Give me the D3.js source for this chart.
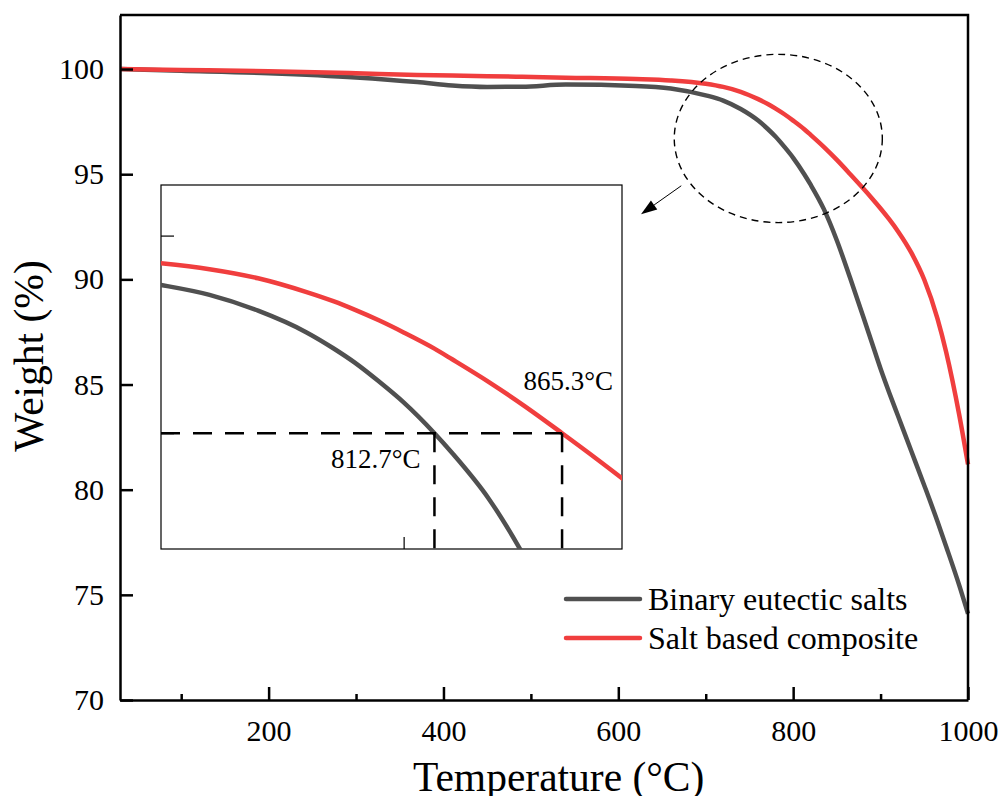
<!DOCTYPE html>
<html>
<head>
<meta charset="utf-8">
<script src="https://cdn.jsdelivr.net/npm/d3@7"></script>
<style>
body { margin:0; background:#fff; }
text { font-family: "Liberation Serif", "Times New Roman", serif; fill:#000; }
</style>
</head>
<body>
<div id="chart-area"></div>
<script>
//Data
var temps = [30, 100, 200, 300, 370, 410, 450, 490, 540, 620, 660, 700, 720, 740, 760, 771, 780, 790, 800,
             812.7, 820, 835, 850, 865.3, 880, 890, 900, 910, 920, 935, 950, 965, 975, 990, 1000];
var binaryWeights = [100.0, 99.92, 99.8, 99.6, 99.38, 99.22, 99.15, 99.16, 99.26, 99.2, 99.08, 98.75, 98.5, 98.1, 97.55, 97.15, 96.78, 96.3, 95.78,
             95.0, 94.5, 93.35, 91.85, 90.05, 88.25, 87.0, 85.75, 84.6, 83.5, 81.85, 80.2, 78.5, 77.3, 75.45, 74.1];
var compositeWeights = [100.0, 99.96, 99.9, 99.8, 99.72, 99.69, 99.66, 99.63, 99.59, 99.53, 99.46, 99.3, 99.15, 98.92, 98.57, 98.34, 98.12, 97.85, 97.55,
             97.14, 96.87, 96.3, 95.68, 95.0, 94.33, 93.86, 93.37, 92.85, 92.28, 91.28, 89.98, 88.15, 86.55, 83.55, 81.2];
var seriesNames = ["Binary eutectic salts", "Salt based composite"];
var seriesColors = ["#505050", "#f03e3e"];

//Ticks
var xMajorTicks = [200, 400, 600, 800, 1000];
var xMinorTicks = [100, 300, 500, 700, 900];
var yTicks = [70, 75, 80, 85, 90, 95, 100];
var insetXTicks = [800];
var insetYTicks = [95, 100];

//Annotation (5 % weight loss)
var onsetTemps = [812.7, 865.3];
var onsetWeight = 95;
var onsetLabels = ["812.7\u00B0C", "865.3\u00B0C"];

var serif = "'Liberation Serif', 'Times New Roman', serif";

//Margin
var margin = { left:120, right:35, top:15, bottom:96 },
    width = 1003 - margin.left - margin.right,
    height = 796 - margin.top - margin.bottom;

var svg = d3.select("#chart-area").append("svg")
    .attr("width", 1003)
    .attr("height", 796);
var g = svg.append("g")
    .attr("transform", "translate(" + margin.left + "," + margin.top + ")");

//Scales
var x = d3.scaleLinear().domain([30, 1000]).range([0, width]);
var y = d3.scaleLinear().domain([70, 102.57]).range([height, 0]);

var series = [binaryWeights, compositeWeights].map(function(w, i) {
    return { name: seriesNames[i], color: seriesColors[i],
             values: temps.map(function(t, j) { return { t: t, w: w[j] }; }) };
});

//Lines
var line = d3.line()
    .x(function(d) { return x(d.t); })
    .y(function(d) { return y(d.w); })
    .curve(d3.curveMonotoneX);

g.selectAll(".main-line").data(series).enter().append("path")
    .attr("class", "main-line")
    .attr("fill", "none")
    .attr("stroke", function(d) { return d.color; })
    .attr("stroke-width", 4.5)
    .attr("d", function(d) { return line(d.values); });

//Axes
var xAxis = g.append("g")
    .attr("transform", "translate(0," + height + ")")
    .call(d3.axisBottom(x).tickValues(xMajorTicks).tickFormat(d3.format("d"))
        .tickSizeInner(-13).tickSizeOuter(0).tickPadding(20));
var xMinor = g.append("g")
    .attr("transform", "translate(0," + height + ")")
    .call(d3.axisBottom(x).tickValues(xMinorTicks).tickSizeInner(-6).tickSizeOuter(0).tickFormat(""));
xMinor.select(".domain").remove();
var yAxis = g.append("g")
    .call(d3.axisLeft(y).tickValues(yTicks).tickSizeInner(-13).tickSizeOuter(0).tickPadding(16));

[xAxis, xMinor, yAxis].forEach(function(a) {
    a.attr("font-family", serif).attr("font-size", 30);
    a.selectAll("path, line").attr("stroke", "#000").attr("stroke-width", 2.5);
    a.selectAll("text").attr("fill", "#000")
        .style("font-family", serif).style("font-size", "30px");
});

//frame top + right
g.append("path")
    .attr("d", "M0,0H" + width + "V" + height)
    .attr("fill", "none").attr("stroke", "#000").attr("stroke-width", 2.5);

//Axis titles
svg.append("text")
    .attr("x", margin.left + (x(1000) + x(30)) / 2 - 131)
    .attr("y", 791)
    .style("font-size", "41.5px")
    .text("Temperature (\u00B0C)");
svg.append("text")
    .attr("transform", "translate(43," + 356 + ") rotate(-90)")
    .attr("text-anchor", "middle")
    .style("font-size", "41.5px")
    .text("Weight (%)");

//Ellipse and arrow pointing at inset
g.append("ellipse")
    .attr("cx", x(783)).attr("cy", y(96.7))
    .attr("rx", x(783 + 119) - x(783)).attr("ry", y(96.7 - 4) - y(96.7))
    .attr("fill", "none").attr("stroke", "#000")
    .attr("stroke-width", 1.4).attr("stroke-dasharray", "7,5");

var a0 = [x(672), y(94.45)], a1 = [x(626), y(93.1)];
var ang = Math.atan2(a1[1] - a0[1], a1[0] - a0[0]);
var headLen = 16, headW = 5.5;
var base = [a1[0] - headLen * Math.cos(ang), a1[1] - headLen * Math.sin(ang)];
g.append("line")
    .attr("x1", a0[0]).attr("y1", a0[1]).attr("x2", base[0]).attr("y2", base[1])
    .attr("stroke", "#000").attr("stroke-width", 1);
g.append("path")
    .attr("d", "M" + a1 + "L" + [base[0] + headW * Math.sin(ang), base[1] - headW * Math.cos(ang)] +
               "L" + [base[0] - headW * Math.sin(ang), base[1] + headW * Math.cos(ang)] + "Z")
    .attr("fill", "#000");

//Inset
var ix = d3.scaleLinear().domain([700, 890]).range([161, 622]);
var iy = d3.scaleLinear().domain([92.07, 101.28]).range([549, 185]);
var inset = svg.append("g");

inset.append("rect")
    .attr("x", 161).attr("y", 185).attr("width", 461).attr("height", 364)
    .attr("fill", "#fff").attr("stroke", "#000").attr("stroke-width", 1.2);

inset.append("clipPath").attr("id", "inset-clip")
    .append("rect").attr("x", 161).attr("y", 185).attr("width", 461).attr("height", 364);

var iline = d3.line()
    .x(function(d) { return ix(d.t); })
    .y(function(d) { return iy(d.w); })
    .curve(d3.curveMonotoneX);

inset.append("g").attr("clip-path", "url(#inset-clip)")
    .selectAll("path").data(series).enter().append("path")
    .attr("fill", "none")
    .attr("stroke", function(d) { return d.color; })
    .attr("stroke-width", 4.5)
    .attr("d", function(d) { return iline(d.values); });

var ixAxis = inset.append("g")
    .attr("transform", "translate(0,549)")
    .call(d3.axisBottom(ix).tickValues(insetXTicks).tickSizeInner(-12).tickSizeOuter(0).tickFormat(""));
var iyAxis = inset.append("g")
    .attr("transform", "translate(161,0)")
    .call(d3.axisLeft(iy).tickValues(insetYTicks).tickSizeInner(-13).tickSizeOuter(0).tickFormat(""));
[ixAxis, iyAxis].forEach(function(a) {
    a.select(".domain").remove();
    a.selectAll("line").attr("stroke", "#000").attr("stroke-width", 1.2);
});

//Dashed guide lines
inset.append("path")
    .attr("d", "M" + ix(700) + "," + iy(onsetWeight) + "H" + ix(onsetTemps[1]))
    .attr("fill", "none").attr("stroke", "#000").attr("stroke-width", 2.5)
    .attr("stroke-dasharray", "19,13");
inset.selectAll(".vguide").data(onsetTemps).enter().append("path")
    .attr("class", "vguide")
    .attr("d", function(d) { return "M" + ix(d) + "," + iy(onsetWeight) + "V" + iy.range()[0]; })
    .attr("fill", "none").attr("stroke", "#000").attr("stroke-width", 2.5)
    .attr("stroke-dasharray", "19,13");

inset.append("text")
    .attr("x", ix(onsetTemps[0]) - 14).attr("y", iy(onsetWeight) + 35)
    .attr("text-anchor", "end")
    .style("font-size", "27px")
    .text(onsetLabels[0]);
inset.append("text")
    .attr("x", ix(onsetTemps[1]) + 51).attr("y", iy(onsetWeight) - 43)
    .attr("text-anchor", "end")
    .style("font-size", "27px")
    .text(onsetLabels[1]);

//Legend
var legend = svg.append("g").attr("transform", "translate(566,599)");
var rows = legend.selectAll("g").data(series).enter().append("g")
    .attr("transform", function(d, i) { return "translate(0," + (i * 39) + ")"; });
rows.append("line")
    .attr("x1", 0).attr("x2", 74)
    .attr("stroke", function(d) { return d.color; })
    .attr("stroke-width", 4.5).attr("stroke-linecap", "round");
rows.append("text")
    .attr("x", 82).attr("y", 11)
    .style("font-size", "32px")
    .text(function(d) { return d.name; });
</script>
</body>
</html>
